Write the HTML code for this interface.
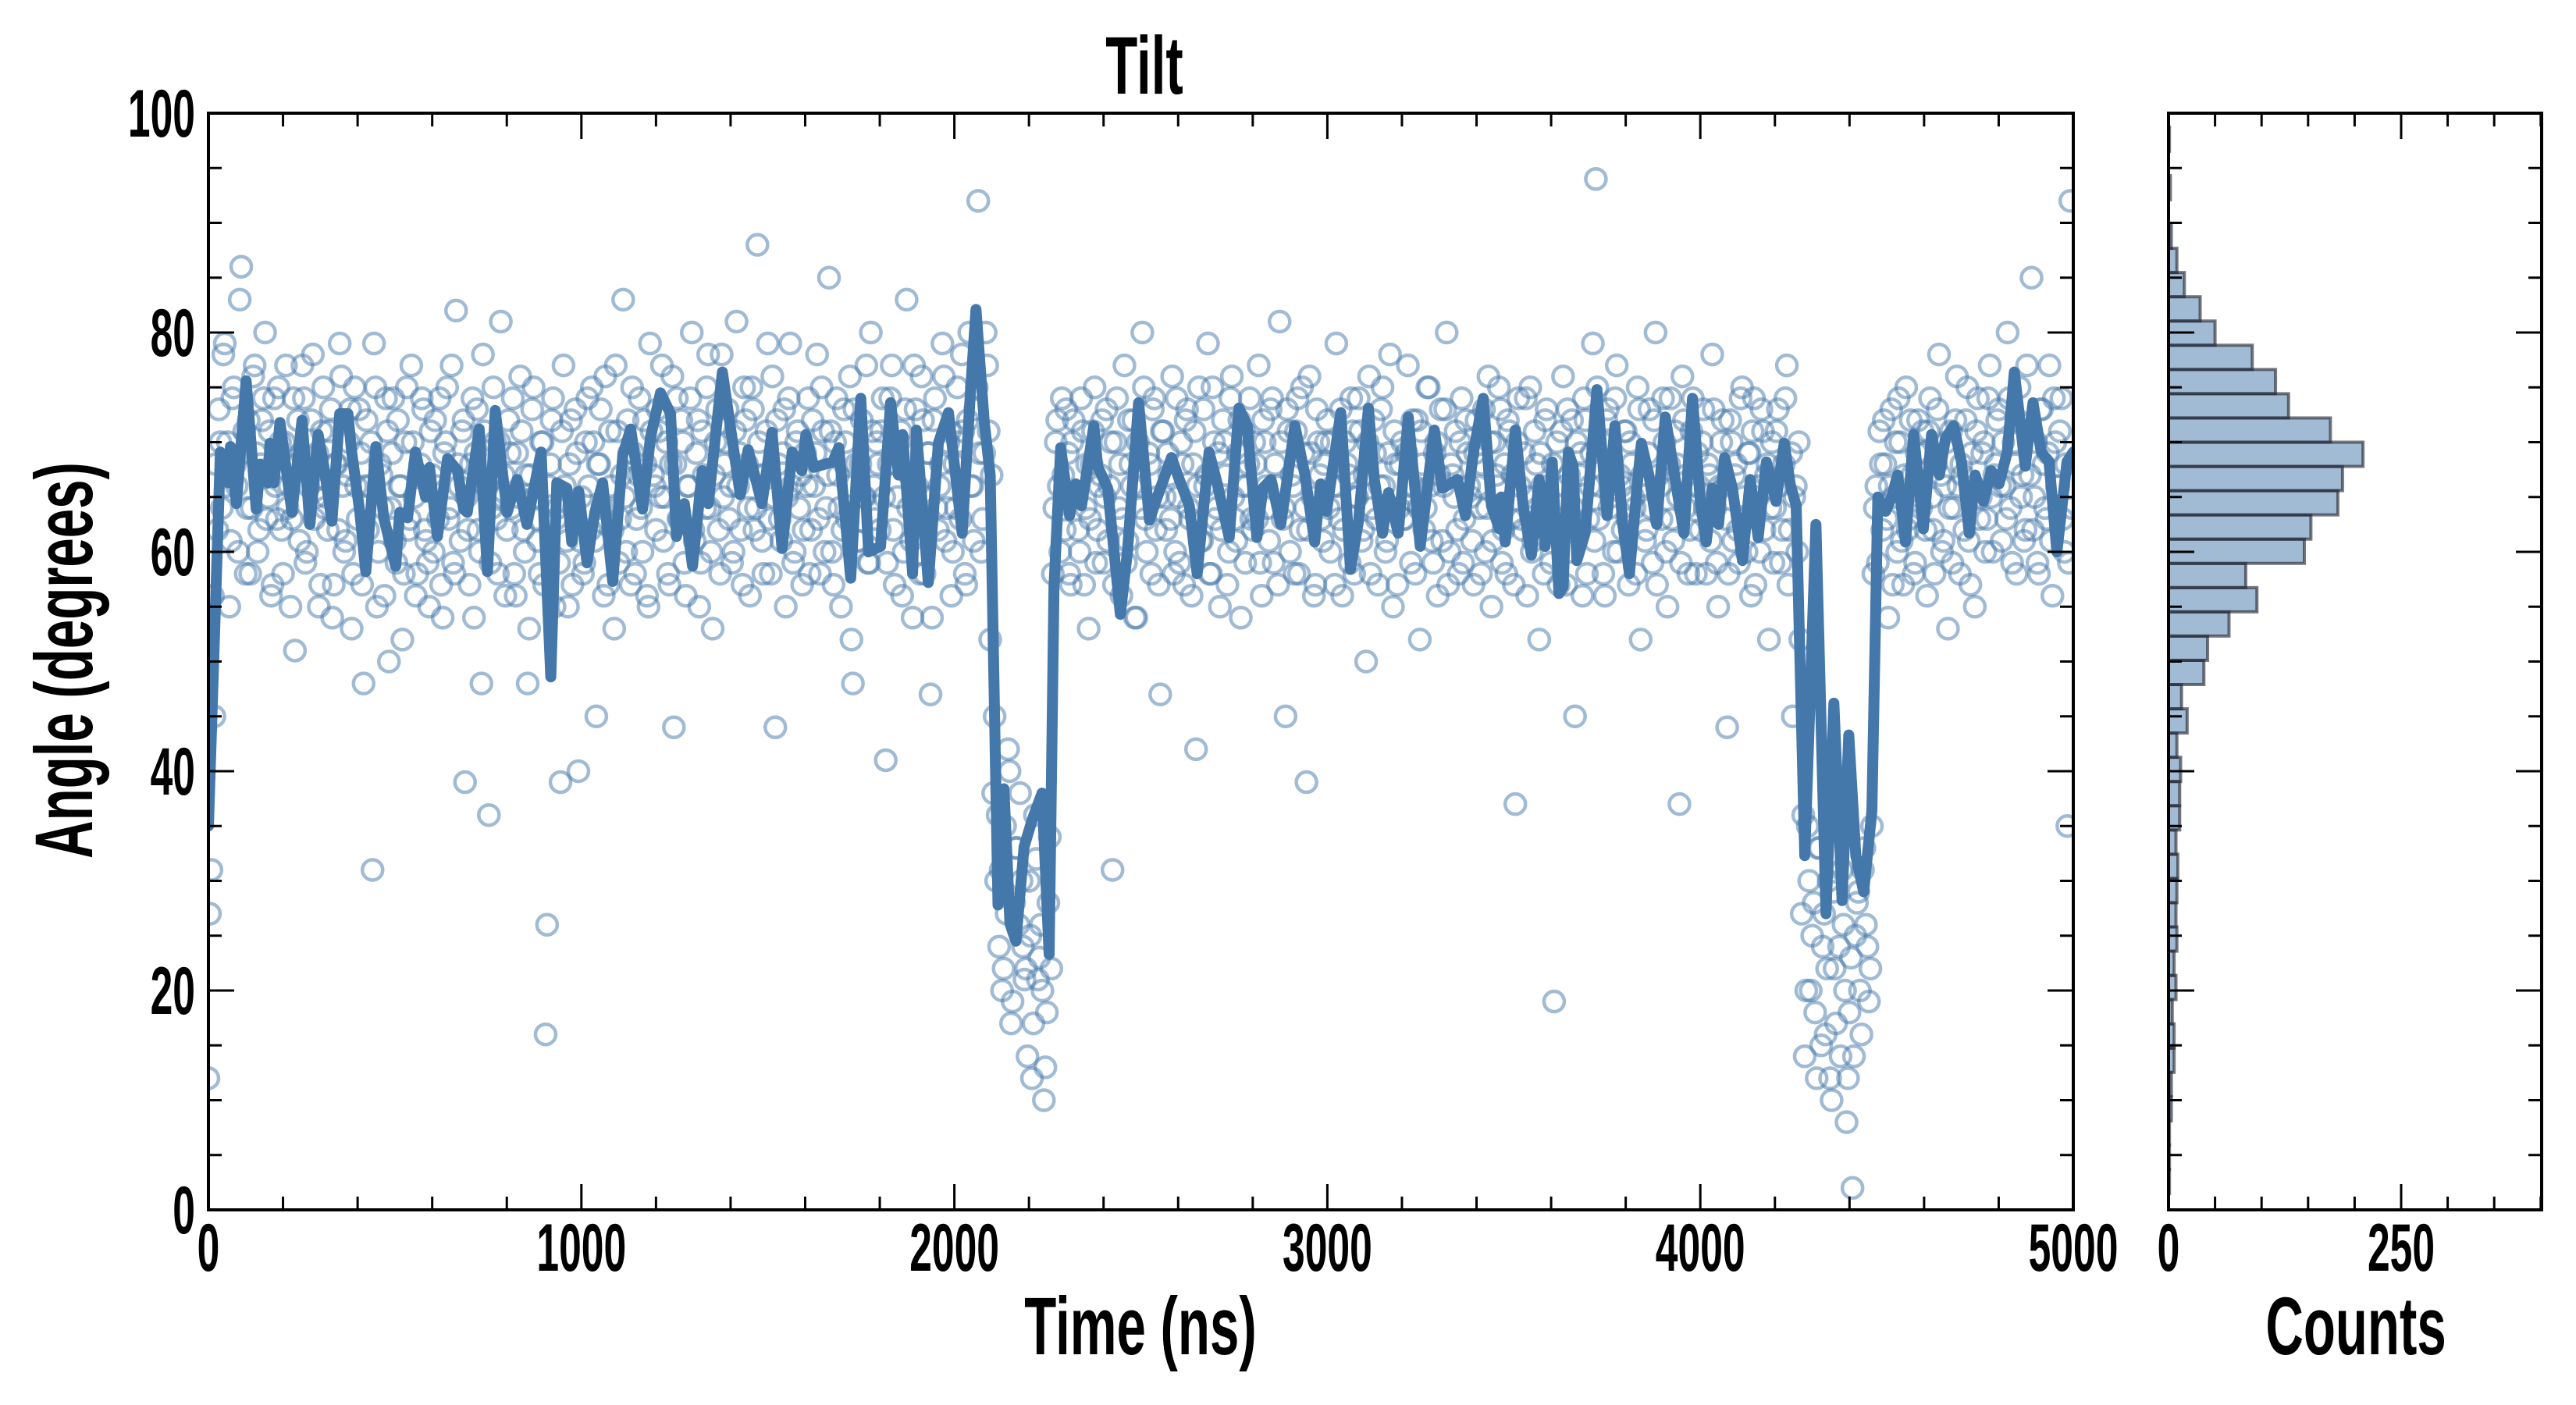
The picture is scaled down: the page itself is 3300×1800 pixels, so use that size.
<!DOCTYPE html>
<html><head><meta charset="utf-8"><style>
html,body{margin:0;padding:0;background:#fff}
svg{display:block}
text{font-family:"Liberation Sans Narrow","Liberation Sans",sans-serif;font-weight:bold;fill:#000}
</style></head><body>
<svg id="chart" width="3300" height="1800" viewBox="0 0 3300 1800" xmlns="http://www.w3.org/2000/svg">
<rect width="3300" height="1800" fill="#fff"/>
<g id="main-marks"></g>
<g id="hist-marks"></g>
<g id="axes"></g>
<text transform="translate(1466,120) scale(0.64,1)" text-anchor="middle" font-size="105">Tilt</text>
<text transform="translate(1461,1735) scale(0.64,1)" text-anchor="middle" font-size="105">Time (ns)</text>
<text transform="translate(3018,1735) scale(0.64,1)" text-anchor="middle" font-size="105">Counts</text>
<text transform="translate(118,846) rotate(-90) scale(0.64,1)" text-anchor="middle" font-size="105">Angle (degrees)</text>
</svg>
<script>
// ---- data ----
const lineTimes = [0,32,53,59,75,101,128,139,160,165,176,192,224,251,272,294,310,331,352,374,384,406,422,449,470,502,513,534,555,582,593,614,641,668,684,694,726,748,769,801,828,854,892,918,934,961,974,993,1015,1036,1057,1084,1111,1132,1164,1185,1212,1239,1255,1276,1298,1324,1340,1378,1426,1447,1484,1511,1538,1565,1591,1602,1623,1674,1690,1722,1749,1770,1802,1829,1850,1861,1888,1898,1930,1957,1984,2021,2042,2058,2080,2096,2117,2133,2149,2165,2187,2208,2235,2254,2267,2285,2309,2325,2341,2374,2384,2411,2445,2464,2494,2523,2544,2582,2603,2630,2651,2683,2705,2737,2763,2785,2811,2827,2849,2875,2913,2940,2966,2982,2998,3036,3062,3084,3110,3126,3148,3164,3190,3217,3249,3287,3308,3349,3370,3392,3418,3440,3461,3466,3477,3504,3525,3547,3568,3584,3603,3621,3632,3646,3659,3669,3691,3707,3723,3750,3771,3792,3810,3830,3842,3862,3883,3906,3931,3956,3979,4000,4016,4032,4049,4065,4086,4113,4134,4155,4177,4203,4225,4241,4257,4280,4310,4337,4358,4380,4398,4417,4438,4460,4476,4497,4513,4529,4550,4572,4598,4620,4641,4657,4679,4700,4721,4737,4759,4780,4801,4823,4842,4871,4892,4914,4935,4956,4983,5000];
const lineAngles = [35,69.1,66.3,69.6,64.4,75.6,63.9,68,66.3,69.9,66.3,71.8,63.6,72,62.5,70.7,67.7,62.8,72.6,72.6,69.1,63.6,58.2,69.6,63.1,58.7,63.6,63.1,69.1,65,67.7,61.4,68.5,67.4,63.9,63.6,71.2,58.2,72.9,63.6,66.6,62.5,69.1,48.6,66.3,65.8,60.9,65.5,59,63.6,66.3,57.3,68.8,71.2,63.9,70.4,74.5,72.6,61.4,64.4,58.7,67.4,64.4,76.4,65.2,69.3,64.4,70.9,60.3,69.1,67.4,70.7,67.7,68.2,69.5,57.6,74,60,60.5,73.6,67,70.7,58,71.1,57.2,69.9,72.7,61.7,74,82.1,71.9,67,27.8,38.4,26.1,24.5,33.1,35.5,38,23.3,56.8,69.5,63.3,66.2,64.2,71.5,67.8,65.8,54.3,60,73.6,62.9,65,68.6,66.6,64.2,58,69.1,66.2,61.3,73.1,71.5,61.3,65.8,66.6,62.5,71.5,67,60.9,66.2,63.7,72.7,58.4,62.9,73.1,66.6,61.7,65.4,61.7,72.3,60.5,71.1,65.8,66.6,63.3,69.1,74,64.2,62.1,65,60.9,71.1,64.2,59.7,66.6,60.5,68.2,56.2,56.8,69.1,67.8,59.2,61.7,68.2,74.8,63.3,71.5,62.5,58,65.8,69.9,67,62.5,72.3,67,61.7,74,64.6,60.9,65.8,62.5,68.6,65.8,59.2,66.6,61.3,68.2,64.6,69.9,66.2,64.2,32.3,62.5,27,46.2,28.2,43.3,32.3,29,36.4,65,63.7,65,67,60.9,70.7,62.1,70.7,67,70.3,71.5,68.2,61.7,67,64.6,67.4,66.2,69.1,76.4,67.8,73.6,69.1,68.2,60,68.2,69.1];
const scatterStep = 8; // ns between samples
const scatterAngles = [
12,31,45,62,70,78,66,55,74,68,60,86,71,64,58,76,69,62,72,80,65,56,74,63,70,
58,77,66,63,51,72,69,74,60,67,78,65,55,71,64,62,73,57,68,79,66,61,70,53,75,
63,69,48,72,66,31,75,60,67,56,71,64,74,59,66,52,70,62,77,65,58,68,73,61,55,
67,72,63,57,69,75,64,59,82,66,71,39,62,68,54,73,60,78,66,36,64,70,58,81,67,
62,69,74,56,65,71,60,48,67,75,63,58,70,16,66,72,55,64,39,77,61,68,57,73,40,
65,59,74,62,70,45,68,64,76,57,66,53,71,63,83,60,69,75,58,67,64,72,56,79,67,
62,71,77,65,58,68,44,74,63,70,56,66,80,61,72,59,67,75,64,53,70,62,78,68,73,
66,60,81,69,57,72,64,75,62,88,67,58,71,63,76,44,68,61,73,65,79,59,70,64,57,
69,74,62,66,78,58,71,64,85,60,70,67,55,73,63,76,48,68,61,72,65,59,80,66,70,
62,74,41,68,77,57,65,71,60,83,67,54,73,63,76,58,69,47,72,64,66,79,61,70,56,
68,75,63,71,57,80,66,73,92,60,69,77,52,38,30,24,20,35,42,17,28,33,38,24,22,
30,12,36,21,26,10,18,34,58,70,66,74,62,69,57,72,65,60,71,64,53,68,75,62,67,
59,73,66,31,70,64,56,77,61,68,72,54,66,80,63,69,58,74,65,47,71,62,67,76,60,
65,70,57,73,63,68,42,75,61,66,79,58,70,64,55,72,67,60,76,63,69,54,71,66,74,
62,68,77,56,70,64,73,59,66,81,63,45,71,67,58,74,62,69,39,76,65,57,70,63,68,
72,60,66,79,63,56,70,67,74,58,65,71,62,50,76,64,69,57,73,66,61,78,55,68,64,
70,63,77,59,66,72,52,68,64,75,61,69,56,73,66,80,60,67,71,58,74,63,69,65,57,
72,64,68,60,76,55,70,66,73,62,58,71,67,37,74,63,69,56,75,61,68,52,66,72,64,
59,19,70,63,76,57,67,72,45,62,69,74,58,66,79,94,63,70,56,73,65,60,77,67,62,
71,57,68,64,75,52,66,62,73,59,80,67,63,70,55,74,61,68,37,76,64,58,71,66,69,
62,73,58,67,78,64,55,70,66,44,72,61,68,59,75,63,69,56,74,65,60,71,67,52,70,
64,73,59,68,77,62,45,66,70,27,14,35,20,28,12,33,24,16,30,10,22,38,14,26,8,
18,2,25,29,16,33,24,22,58,66,71,62,68,54,73,65,60,70,57,75,63,67,59,72,64,
69,56,74,62,68,78,60,66,53,71,64,76,58,67,72,61,69,55,74,65,70,63,77,60,68,
73,61,66,80,64,70,58,75,67,62,71,85,65,59,73,68,63,77,56,70,66,74,60,35,92];
const scatterOffset = 4; // ns offset of interleaved samples
const scatterAnglesB = [
27,56,68,73,64,79,70,61,75,66,83,69,58,72,64,77,60,68,74,63,71,57,66,75,62,
70,64,55,74,68,61,77,59,66,72,63,69,57,75,65,71,54,68,62,76,60,67,73,58,66,
73,57,66,62,70,79,55,68,64,74,50,69,61,72,66,58,75,63,70,56,67,74,62,59,71,
60,66,74,54,70,63,77,58,68,61,72,65,57,74,69,62,48,71,66,59,75,63,70,65,56,
72,64,58,69,76,62,67,53,73,65,61,70,57,26,68,74,63,59,71,66,55,72,64,69,61,
58,70,66,75,61,68,73,56,64,71,62,77,59,67,65,72,57,69,63,74,60,68,55,71,66,
73,65,61,70,57,76,68,63,72,59,66,74,62,69,55,71,64,78,60,67,73,58,65,70,63,
59,71,66,62,75,68,56,73,64,70,61,67,79,58,65,72,63,69,55,74,66,60,71,67,62,
66,58,72,69,63,75,60,67,71,57,74,64,62,70,66,52,73,61,68,65,77,59,71,63,68,
71,65,59,74,62,68,70,56,73,64,61,77,66,58,72,65,69,54,74,62,68,76,64,71,60,
64,70,78,58,72,66,61,75,69,63,80,71,67,45,36,31,22,27,40,19,33,26,30,21,14,
25,17,32,23,20,13,28,22,64,72,60,67,73,58,70,65,62,74,57,68,63,71,59,66,72,
65,61,70,57,74,68,63,59,72,66,54,70,64,75,60,68,73,62,57,71,65,69,63,58,74,
59,68,72,64,56,71,66,61,73,67,58,75,63,69,62,70,57,74,65,61,72,66,59,68,63,
70,63,59,72,66,61,74,68,57,70,64,73,60,66,71,58,75,64,62,69,56,73,67,61,70,
64,70,57,66,73,62,68,59,71,65,74,61,67,70,58,72,63,66,75,60,69,64,71,57,68,
63,69,66,72,58,64,71,62,75,66,59,70,67,61,73,57,68,65,62,70,59,72,66,61,69,
66,58,73,64,70,61,67,75,59,68,72,63,57,70,66,62,74,65,60,71,64,69,58,73,62,
68,62,57,71,66,73,60,64,70,67,56,72,63,69,61,75,66,58,72,64,68,74,60,66,71,
63,70,65,58,73,67,61,69,64,72,57,66,74,60,68,63,71,65,59,72,67,62,74,58,66,
70,64,68,61,73,59,66,72,63,58,70,67,62,74,65,60,69,71,57,66,73,62,68,64,59,
71,66,62,74,57,69,65,60,52,36,20,30,25,18,33,15,27,22,12,29,17,24,31,20,12,
23,14,28,20,31,26,19,35,64,59,68,72,63,66,57,70,74,61,67,62,72,58,69,65,71,
62,71,65,58,73,67,61,70,64,59,72,66,68,62,75,57,66,71,63,69,60,74,65,67,72,
66,70,63,74,59,68,72,65,61,77,67,62,70,58,73,64,69,61,74,66,71,63,68,59,64];
const histBinStart = 1.49;
const histBinWidth = 2.21;
const histCounts = [1,1,1,3,3,6,6,4,8,6,9,8,9,10,8,12,12,13,9,20,14,38,42,65,95,83,146,153,182,187,209,174,129,115,90,50,34,17,9,3,0,2,0,1];
const xTickLabels = [0,1000,2000,3000,4000,5000];
const yTickLabels = [0,20,40,60,80,100];
const histTickLabels = [0,250];

// ---- layout ----
const NS='http://www.w3.org/2000/svg';
const L=267,R=2656,T=145,B=1550, HL=2778,HR=3256;
const X0=0,X1=5000,Y0=0,Y1=100,C1=401;
const xs=t=>L+(t-X0)/(X1-X0)*(R-L);
const ys=a=>B-(a-Y0)/(Y1-Y0)*(B-T);
const hx=c=>HL+c/C1*(HR-HL);
const COL='#4477aa';
function mk(tag,attrs,parent){const e=document.createElementNS(NS,tag);for(const k in attrs)e.setAttribute(k,attrs[k]);parent.appendChild(e);return e;}

const main=document.getElementById('main-marks');
const cp=mk('clipPath',{id:'clipMain'},main);
mk('rect',{x:L,y:T,width:R-L,height:B-T},cp);
const sg=mk('g',{'clip-path':'url(#clipMain)'},main);


function drawPoint(t,a){
  const c=mk('circle',{cx:xs(t),cy:ys(a),r:13,fill:'none',stroke:COL,'stroke-width':4.5,'stroke-opacity':0.5},sg);
  
  
}
scatterAngles.forEach((a,i)=>drawPoint(i*scatterStep,a));
scatterAnglesB.forEach((a,i)=>drawPoint(i*scatterStep+scatterOffset,a));
const d=lineTimes.map((t,i)=>(i?'L':'M')+xs(t).toFixed(1)+' '+ys(lineAngles[i]).toFixed(1)).join(' ');
const ln=mk('path',{d:d,fill:'none',stroke:COL,'stroke-width':14,'stroke-linejoin':'round','stroke-linecap':'round','clip-path':'url(#clipMain)'},main);



const hist=document.getElementById('hist-marks');
histCounts.forEach((c,i)=>{
  if(c<=0)return;
  const a0=histBinStart+i*histBinWidth,a1=a0+histBinWidth;
  const r=mk('rect',{x:HL,y:ys(a1),width:hx(c)-HL,height:ys(a0)-ys(a1),fill:'rgba(68,119,170,0.5)',stroke:'rgba(30,30,40,0.6)','stroke-width':4},hist);
  
  
});

// ---- axes ----
const ax=document.getElementById('axes');
function line(x1,y1,x2,y2,w){mk('line',{x1,y1,x2,y2,stroke:'#000','stroke-width':w},ax);}
function label(txt,x,y,anchor,name){
  const t=mk('text',{transform:`translate(${x},${y}) scale(0.6,1)`,'text-anchor':anchor,'font-size':86},ax);
  t.textContent=txt;
  
  
}
mk('rect',{x:L,y:T,width:R-L,height:B-T,fill:'none',stroke:'#000','stroke-width':4},ax);
for(let t=0;t<=5000;t+=200){const maj=t%1000===0,len=maj?33:17;line(xs(t),B,xs(t),B-len,3);line(xs(t),T,xs(t),T+len,3);}
for(let a=0;a<=100;a+=5){const maj=a%20===0,len=maj?33:17;line(L,ys(a),L+len,ys(a),3);line(R,ys(a),R-len,ys(a),3);}
xTickLabels.forEach(v=>label(String(v),xs(v),1628,'middle','x-tick-label'));
yTickLabels.forEach(v=>label(String(v),250,ys(v)+30,'end','y-tick-label'));
mk('rect',{x:HL,y:T,width:HR-HL,height:B-T,fill:'none',stroke:'#000','stroke-width':4},ax);
for(let c=0;c<=400;c+=50){const maj=c%250===0,len=maj?33:17;line(hx(c),B,hx(c),B-len,3);line(hx(c),T,hx(c),T+len,3);}
for(let a=0;a<=100;a+=5){const maj=a%20===0,len=maj?33:17;line(HL,ys(a),HL+len,ys(a),3);line(HR,ys(a),HR-len,ys(a),3);}
histTickLabels.forEach(v=>label(String(v),hx(v),1628,'middle','hist-tick-label'));
</script>
</body></html>
